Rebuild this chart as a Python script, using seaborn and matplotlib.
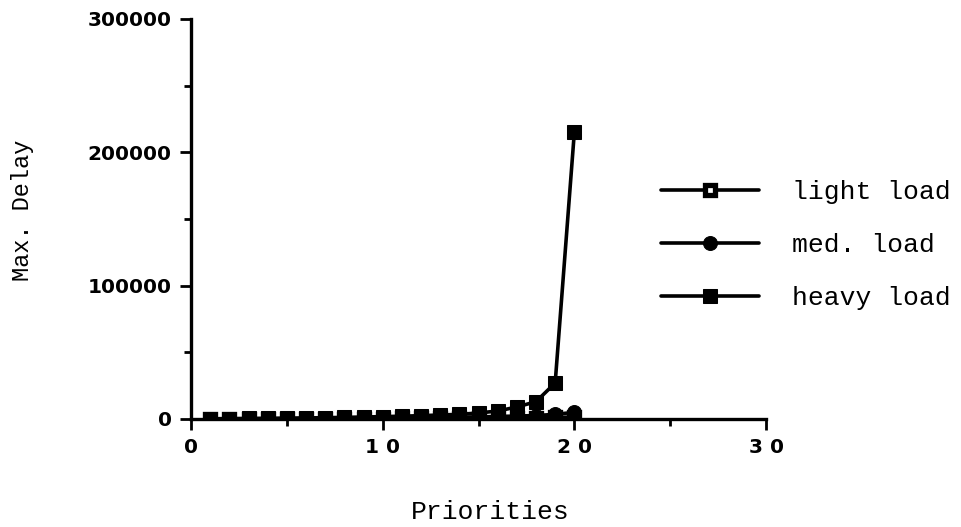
import numpy as np
import pandas as pd
import matplotlib
matplotlib.use("Agg")
import matplotlib.pyplot as plt
import seaborn as sns
from matplotlib.ticker import MultipleLocator

# DATA
priorities = list(range(1, 21))
light_load = [50, 80, 100, 120, 150, 180, 200, 250, 300, 350, 400, 450, 500, 600, 700, 800, 900, 1000, 1200, 1500]
med_load = [100, 150, 200, 250, 300, 400, 500, 600, 700, 800, 900, 1000, 1200, 1400, 1600, 1900, 2200, 2600, 3500, 5000]
heavy_load = [200, 300, 400, 500, 600, 800, 1000, 1200, 1500, 1800, 2100, 2500, 3000, 3500, 4500, 6000, 9000, 13000, 27000, 215000]
series_names = ["light load", "med. load", "heavy load"]
x_ticks = [0, 10, 20, 30]
x_tick_labels = ["0", "1 0", "2 0", "3 0"]
y_ticks = [0, 100000, 200000, 300000]
y_tick_labels = ["0", "100000", "200000", "300000"]


def build_frame():
    df = pd.DataFrame({"Priorities": priorities,
                       series_names[0]: light_load,
                       series_names[1]: med_load,
                       series_names[2]: heavy_load})
    return df.melt(id_vars="Priorities", var_name="load", value_name="delay")


def plot_chart(df):
    sns.set_style("ticks")
    fig = plt.figure(figsize=(9.61, 5.27), dpi=100)
    ax = fig.add_axes([191 / 961, 1 - 419 / 527, (766 - 191) / 961, 400 / 527])

    styles = {
        "light load": dict(marker="s", markerfacecolor="white", markeredgecolor="black", markeredgewidth=3.8, markersize=7),
        "med. load": dict(marker="o", markerfacecolor="black", markeredgecolor="black", markersize=10),
        "heavy load": dict(marker="s", markerfacecolor="black", markeredgecolor="black", markersize=10),
    }
    for name in series_names:
        sub = df[df["load"] == name]
        sns.lineplot(data=sub, x="Priorities", y="delay", ax=ax, color="black",
                     linewidth=2.6, label=name, **styles[name])

    ax.set_xlim(0, 30)
    ax.set_ylim(0, 300000)
    ax.set_xticks(x_ticks)
    ax.set_xticklabels(x_tick_labels)
    ax.set_yticks(y_ticks)
    ax.set_yticklabels(y_tick_labels)
    ax.xaxis.set_minor_locator(MultipleLocator(5))
    ax.yaxis.set_minor_locator(MultipleLocator(50000))
    for lab in ax.get_xticklabels() + ax.get_yticklabels():
        lab.set_fontfamily("DejaVu Sans")
        lab.set_fontweight("bold")
        lab.set_fontsize(14.5)
        lab.set_color("black")
    ax.tick_params(which="major", direction="out", length=8, width=2, color="black", pad=6)
    ax.tick_params(which="minor", direction="out", length=5, width=2, color="black")
    sns.despine(ax=ax)
    for side in ["left", "bottom"]:
        ax.spines[side].set_linewidth(2.4)
        ax.spines[side].set_color("black")
    ax.patch.set_alpha(0)

    ax.set_xlabel("")
    ax.set_ylabel("")
    fig.text(490 / 961, 1 - 512 / 527, "Priorities", family="Liberation Mono",
             fontsize=19, ha="center", va="center", color="black")
    fig.text(22 / 961, 1 - 210 / 527, "Max. Delay", family="Liberation Mono",
             fontsize=17, ha="center", va="center", rotation=90, color="black")

    leg = ax.legend(loc="center left", bbox_to_anchor=(661 / 961, 1 - 245 / 527),
                    bbox_transform=fig.transFigure, frameon=False, borderpad=0,
                    borderaxespad=0, handlelength=3.7, handletextpad=1.25,
                    labelspacing=1.1, prop={"family": "Liberation Mono", "size": 19})
    for t in leg.get_texts():
        t.set_color("black")

    fig.savefig("out.png", dpi=100, facecolor="white")


def main():
    df = build_frame()
    plot_chart(df)


if __name__ == "__main__":
    main()
